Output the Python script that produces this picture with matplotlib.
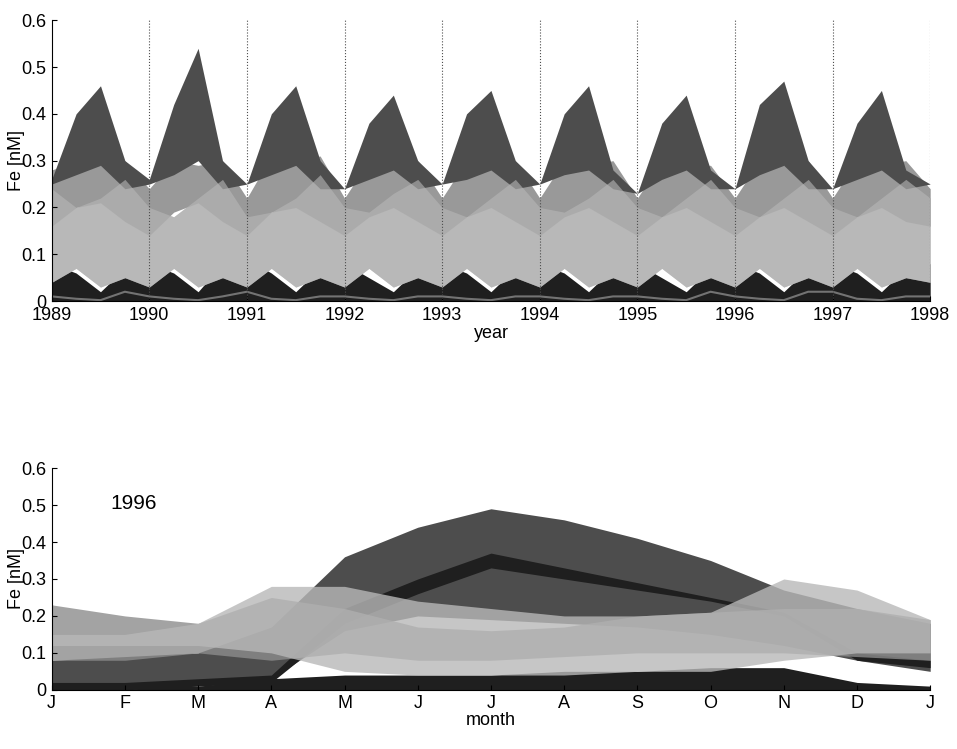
import numpy as np
import matplotlib.pyplot as plt

plt.rcParams['font.family'] = ['Liberation Sans', 'DejaVu Sans']

# top panel: quarterly samples, 1989.0 .. 1998.0
years = np.arange(1989, 1998.01, 0.25)
dark_hi = [0.26, 0.40, 0.46, 0.30, 0.26, 0.42, 0.54, 0.30, 0.25, 0.40, 0.46, 0.30, 0.24, 0.38, 0.44, 0.30,
           0.25, 0.40, 0.45, 0.30, 0.25, 0.40, 0.46, 0.28, 0.23, 0.38, 0.44, 0.28, 0.24, 0.42, 0.47, 0.30,
           0.24, 0.38, 0.45, 0.28, 0.25]
dark_lo = [0.25, 0.27, 0.29, 0.24, 0.25, 0.27, 0.30, 0.24, 0.25, 0.27, 0.29, 0.24, 0.24, 0.26, 0.28, 0.24,
           0.25, 0.26, 0.28, 0.24, 0.25, 0.27, 0.28, 0.24, 0.23, 0.26, 0.28, 0.24, 0.24, 0.27, 0.29, 0.24,
           0.24, 0.26, 0.28, 0.24, 0.25]
mid_hi = [0.28, 0.30, 0.29, 0.30, 0.24, 0.30, 0.29, 0.30, 0.22, 0.31, 0.30, 0.31, 0.22, 0.30, 0.29, 0.30,
          0.22, 0.30, 0.29, 0.30, 0.22, 0.30, 0.29, 0.30, 0.22, 0.30, 0.29, 0.29, 0.22, 0.30, 0.29, 0.30,
          0.22, 0.30, 0.29, 0.30, 0.24]
mid_lo = [0.16, 0.20, 0.21, 0.17, 0.14, 0.19, 0.21, 0.17, 0.14, 0.19, 0.20, 0.17, 0.14, 0.18, 0.20, 0.17,
          0.14, 0.18, 0.20, 0.17, 0.14, 0.18, 0.20, 0.17, 0.14, 0.18, 0.20, 0.17, 0.14, 0.18, 0.20, 0.17,
          0.14, 0.18, 0.20, 0.17, 0.16]
light_hi = [0.24, 0.20, 0.22, 0.26, 0.20, 0.18, 0.22, 0.26, 0.18, 0.19, 0.22, 0.27, 0.20, 0.19, 0.23, 0.26,
            0.20, 0.18, 0.22, 0.26, 0.20, 0.19, 0.22, 0.26, 0.20, 0.18, 0.22, 0.26, 0.20, 0.18, 0.22, 0.26,
            0.20, 0.18, 0.22, 0.26, 0.22]
light_lo = [0.04, 0.07, 0.03, 0.05, 0.03, 0.07, 0.03, 0.05, 0.03, 0.07, 0.03, 0.05, 0.03, 0.07, 0.03, 0.05,
            0.03, 0.07, 0.03, 0.05, 0.03, 0.07, 0.03, 0.05, 0.03, 0.07, 0.03, 0.05, 0.03, 0.07, 0.03, 0.05,
            0.03, 0.07, 0.03, 0.05, 0.04]
low_hi = [0.08, 0.06, 0.02, 0.07, 0.08, 0.06, 0.02, 0.08, 0.09, 0.06, 0.02, 0.07, 0.08, 0.05, 0.02, 0.07,
          0.08, 0.06, 0.02, 0.07, 0.08, 0.06, 0.02, 0.07, 0.08, 0.05, 0.02, 0.07, 0.08, 0.06, 0.02, 0.07,
          0.08, 0.06, 0.02, 0.07, 0.08]
line_top = [0.01, 0.005, 0.002, 0.02, 0.01, 0.005, 0.002, 0.01, 0.02, 0.005, 0.002, 0.01, 0.01, 0.005, 0.002, 0.01,
            0.01, 0.005, 0.002, 0.01, 0.01, 0.005, 0.002, 0.01, 0.01, 0.005, 0.002, 0.02, 0.01, 0.005, 0.002, 0.02,
            0.02, 0.005, 0.002, 0.01, 0.01]

# bottom panel (1996): monthly samples, J .. J
months = np.arange(13)
month_labels = ['J', 'F', 'M', 'A', 'M', 'J', 'J', 'A', 'S', 'O', 'N', 'D', 'J']
b_dark_hi = [0.08, 0.09, 0.10, 0.17, 0.36, 0.44, 0.49, 0.46, 0.41, 0.35, 0.27, 0.22, 0.18]
b_dark_lo = [0.00, 0.00, 0.02, 0.03, 0.16, 0.20, 0.19, 0.18, 0.17, 0.15, 0.12, 0.08, 0.05]
b_black_hi = [0.02, 0.02, 0.03, 0.04, 0.22, 0.30, 0.37, 0.33, 0.29, 0.25, 0.21, 0.10, 0.08]
b_black_lo = [0.00, 0.00, 0.01, 0.02, 0.18, 0.26, 0.33, 0.30, 0.27, 0.24, 0.20, 0.08, 0.06]
b_mid_hi = [0.23, 0.20, 0.18, 0.25, 0.22, 0.17, 0.16, 0.17, 0.20, 0.21, 0.22, 0.22, 0.19]
b_mid_lo = [0.08, 0.08, 0.10, 0.08, 0.10, 0.08, 0.08, 0.09, 0.10, 0.10, 0.10, 0.09, 0.08]
b_light_hi = [0.15, 0.15, 0.18, 0.28, 0.28, 0.24, 0.22, 0.20, 0.20, 0.21, 0.30, 0.27, 0.19]
b_light_lo = [0.12, 0.12, 0.12, 0.10, 0.05, 0.04, 0.04, 0.04, 0.05, 0.05, 0.08, 0.10, 0.10]
b_low = [0.02, 0.02, 0.01, 0.03, 0.04, 0.04, 0.04, 0.05, 0.05, 0.06, 0.06, 0.02, 0.01]

fig = plt.figure(figsize=(9.57, 7.49), dpi=100)
ax1 = fig.add_axes([0.054, 0.598, 0.918, 0.375])
ax2 = fig.add_axes([0.054, 0.079, 0.918, 0.296])

ax1.fill_between(years, 0, low_hi, color='0.12', lw=0)
ax1.fill_between(years, light_lo, light_hi, color='0.72', lw=0)
ax1.fill_between(years, mid_lo, mid_hi, color='0.6', lw=0)
ax1.fill_between(years, dark_lo, dark_hi, color='0.3', lw=0)
ax1.fill_between(years, light_lo, light_hi, color='0.72', lw=0, alpha=0.6)
ax1.plot(years, line_top, color='0.45', lw=1.5)
for yr in range(1990, 1999):
    ax1.axvline(yr, color='0.3', ls=':', lw=0.8)
ax1.set_xlim(1989, 1998)
ax1.set_ylim(0, 0.6)
ax1.set_xticks(range(1989, 1999))
ax1.set_xlabel('year', fontsize=13, labelpad=1)

ax2.fill_between(months, 0, b_low, color='0.12', lw=0)
ax2.fill_between(months, b_dark_lo, b_dark_hi, color='0.3', lw=0)
ax2.fill_between(months, b_black_lo, b_black_hi, color='0.12', lw=0)
ax2.fill_between(months, b_mid_lo, b_mid_hi, color='0.55', lw=0, alpha=0.8)
ax2.fill_between(months, b_light_lo, b_light_hi, color='0.72', lw=0, alpha=0.8)
ax2.set_xlim(0, 12)
ax2.set_ylim(0, 0.6)
ax2.set_xticks(months)
ax2.set_xticklabels(month_labels)
ax2.set_xlabel('month', fontsize=13, labelpad=0)
ax2.text(0.8, 0.49, '1996', fontsize=15)

for ax in (ax1, ax2):
    ax.set_yticks([0, 0.1, 0.2, 0.3, 0.4, 0.5, 0.6])
    ax.set_yticklabels(['0', '0.1', '0.2', '0.3', '0.4', '0.5', '0.6'])
    ax.set_ylabel('Fe [nM]', fontsize=13)
    ax.yaxis.set_label_coords(-0.03, 0.5)
    ax.spines['top'].set_visible(False)
    ax.spines['right'].set_visible(False)
    ax.tick_params(direction='in', labelsize=13, pad=4)

fig.savefig('out.png', dpi=100)
